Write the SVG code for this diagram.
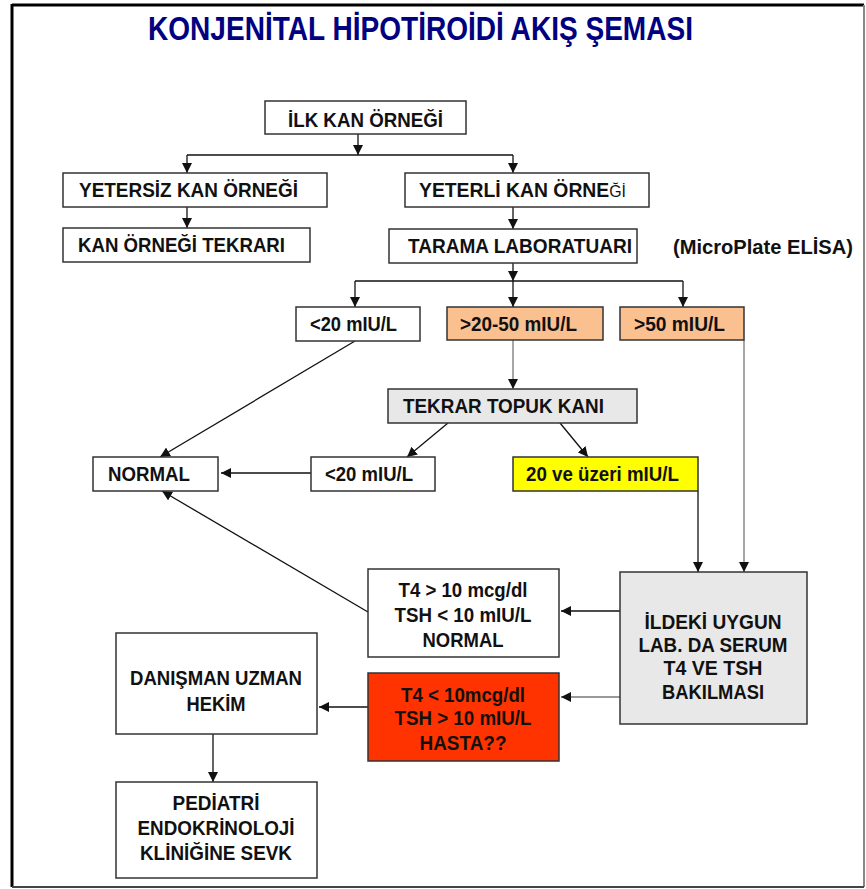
<svg xmlns="http://www.w3.org/2000/svg" width="866" height="889" viewBox="0 0 866 889">
<style>
.box{stroke:#333;stroke-width:1.5}
.w{fill:#fff}
.g{fill:#e8e8e8}
.o{fill:#fac090}
.y{fill:#ffff00}
.r{fill:#ff3300}
.t{font-family:"Liberation Sans",Arial,sans-serif;font-weight:bold;font-size:19.5px;fill:#111}
.c{text-anchor:middle}
.ln{stroke:#111;stroke-width:1.3;fill:none}
.lg{stroke:#777;stroke-width:1.3;fill:none}
</style>
<defs>
<marker id="ah" markerUnits="userSpaceOnUse" markerWidth="10" markerHeight="10" refX="10" refY="5" orient="auto" viewBox="0 0 10 10">
<path d="M0,0 L10,5 L0,10 z" fill="#111"/>
</marker>
</defs>
<rect x="0" y="0" width="866" height="889" fill="#fff"/>
<g id="frame">
<line x1="12" y1="5" x2="864" y2="5" stroke="#000" stroke-width="3"/>
<line x1="12" y1="4" x2="12" y2="887" stroke="#000" stroke-width="3"/>
<line x1="864" y1="5" x2="864" y2="887" stroke="#888" stroke-width="2"/>
<line x1="12" y1="887" x2="864" y2="887" stroke="#444" stroke-width="2"/>
</g>
<text id="title" x="148" y="40" font-family="'Liberation Sans',Arial,sans-serif" font-weight="bold" font-size="33" fill="#000080" textLength="545" lengthAdjust="spacingAndGlyphs">KONJENİTAL HİPOTİROİDİ AKIŞ ŞEMASI</text>

<g id="connectors">
<line class="ln" x1="358" y1="134" x2="358" y2="155" marker-end="url(#ah)"/>
<line class="ln" x1="187" y1="155" x2="513" y2="155"/>
<line class="ln" x1="187" y1="155" x2="187" y2="173" marker-end="url(#ah)"/>
<line class="ln" x1="513" y1="155" x2="513" y2="173" marker-end="url(#ah)"/>
<line class="ln" x1="187" y1="207" x2="187" y2="228" marker-end="url(#ah)"/>
<line class="ln" x1="513" y1="207" x2="513" y2="229" marker-end="url(#ah)"/>
<line class="ln" x1="513" y1="263" x2="513" y2="281" marker-end="url(#ah)"/>
<line class="ln" x1="355" y1="281" x2="683" y2="281"/>
<line class="ln" x1="355" y1="281" x2="355" y2="307" marker-end="url(#ah)"/>
<line class="ln" x1="513" y1="281" x2="513" y2="307" marker-end="url(#ah)"/>
<line class="ln" x1="683" y1="281" x2="683" y2="307" marker-end="url(#ah)"/>
<line class="lg" x1="513" y1="340" x2="513" y2="389" marker-end="url(#ah)"/>
<line class="lg" x1="744" y1="340" x2="744" y2="572" marker-end="url(#ah)"/>
<line class="ln" x1="355" y1="341" x2="160" y2="457" marker-end="url(#ah)"/>
<line class="ln" x1="448" y1="423" x2="407" y2="457" marker-end="url(#ah)"/>
<line class="ln" x1="560" y1="423" x2="588" y2="457" marker-end="url(#ah)"/>
<line class="ln" x1="311" y1="473" x2="221" y2="473" marker-end="url(#ah)"/>
<line class="ln" x1="698" y1="491" x2="698" y2="572" marker-end="url(#ah)"/>
<line class="ln" x1="368" y1="612" x2="162" y2="491" marker-end="url(#ah)"/>
<line class="ln" x1="620" y1="611" x2="561" y2="611" marker-end="url(#ah)"/>
<line class="lg" x1="620" y1="697" x2="561" y2="697" marker-end="url(#ah)"/>
<line class="ln" x1="368" y1="707" x2="319" y2="707" marker-end="url(#ah)"/>
<line class="ln" x1="213" y1="734" x2="213" y2="782" marker-end="url(#ah)"/>
</g>

<g id="ilk"><rect class="box w" x="265" y="101" width="201" height="33"/><text class="t" x="288" y="127" textLength="155" lengthAdjust="spacingAndGlyphs">İLK KAN ÖRNEĞİ</text></g>
<g id="yetersiz"><rect class="box w" x="63" y="173" width="264" height="34"/><text class="t" x="79" y="197" textLength="219" lengthAdjust="spacingAndGlyphs">YETERSİZ KAN ÖRNEĞİ</text></g>
<g id="tekrari"><rect class="box w" x="63" y="228" width="247" height="34"/><text class="t" x="78" y="252" textLength="207" lengthAdjust="spacingAndGlyphs">KAN ÖRNEĞİ TEKRARI</text></g>
<g id="yeterli"><rect class="box w" x="405" y="173" width="244" height="34"/><text class="t" x="419" y="197" textLength="207" lengthAdjust="spacingAndGlyphs">YETERLİ KAN ÖRNE<tspan font-size="16" font-weight="normal">Ğİ</tspan></text></g>
<g id="tarama"><rect class="box w" x="389" y="229" width="248" height="34"/><text class="t" x="408" y="253" textLength="224" lengthAdjust="spacingAndGlyphs">TARAMA LABORATUARI</text></g>
<g id="elisa"><text class="t" x="673" y="254" textLength="180" lengthAdjust="spacingAndGlyphs">(MicroPlate ELİSA)</text></g>
<g id="lt20a"><rect class="box w" x="296" y="307" width="124" height="34"/><text class="t" x="310" y="331" textLength="87" lengthAdjust="spacingAndGlyphs">&lt;20 mIU/L</text></g>
<g id="r2050"><rect class="box o" x="447" y="307" width="156" height="33"/><text class="t" x="460" y="331" textLength="117" lengthAdjust="spacingAndGlyphs">&gt;20-50 mIU/L</text></g>
<g id="gt50"><rect class="box o" x="620" y="307" width="124" height="33"/><text class="t" x="634" y="331" textLength="91" lengthAdjust="spacingAndGlyphs">&gt;50 mIU/L</text></g>
<g id="tekrar"><rect class="box g" x="388" y="389" width="249" height="34"/><text class="t" x="403" y="413" textLength="201" lengthAdjust="spacingAndGlyphs">TEKRAR TOPUK KANI</text></g>
<g id="normal"><rect class="box w" x="93" y="457" width="125" height="34"/><text class="t" x="108" y="481" textLength="82" lengthAdjust="spacingAndGlyphs">NORMAL</text></g>
<g id="lt20b"><rect class="box w" x="311" y="457" width="124" height="34"/><text class="t" x="325" y="481" textLength="88" lengthAdjust="spacingAndGlyphs">&lt;20 mIU/L</text></g>
<g id="yellow"><rect class="box y" x="513" y="457" width="185" height="34"/><text class="t" x="526" y="481" textLength="153" lengthAdjust="spacingAndGlyphs">20 ve üzeri mIU/L</text></g>
<g id="ildeki"><rect class="box g" x="620" y="572" width="187" height="152"/>
<text class="t c" x="713" y="629" textLength="137" lengthAdjust="spacingAndGlyphs">İLDEKİ UYGUN</text>
<text class="t c" x="713" y="652" textLength="149" lengthAdjust="spacingAndGlyphs">LAB. DA SERUM</text>
<text class="t c" x="713" y="675" textLength="99" lengthAdjust="spacingAndGlyphs">T4 VE TSH</text>
<text class="t c" x="713" y="699" textLength="102" lengthAdjust="spacingAndGlyphs">BAKILMASI</text></g>
<g id="t4normal"><rect class="box w" x="368" y="569" width="191" height="88"/>
<text class="t c" x="463" y="597" textLength="129" lengthAdjust="spacingAndGlyphs">T4 &gt; 10 mcg/dl</text>
<text class="t c" x="463" y="622" textLength="137" lengthAdjust="spacingAndGlyphs">TSH &lt; 10 mIU/L</text>
<text class="t c" x="463" y="647" textLength="81" lengthAdjust="spacingAndGlyphs">NORMAL</text></g>
<g id="hasta"><rect class="box r" x="368" y="673" width="191" height="88"/>
<text class="t c" x="463" y="702" textLength="124" lengthAdjust="spacingAndGlyphs">T4 &lt; 10mcg/dl</text>
<text class="t c" x="463" y="725" textLength="137" lengthAdjust="spacingAndGlyphs">TSH &gt; 10 mIU/L</text>
<text class="t c" x="463" y="750" textLength="87" lengthAdjust="spacingAndGlyphs">HASTA??</text></g>
<g id="danisman"><rect class="box w" x="116" y="633" width="201" height="101"/>
<text class="t c" x="216" y="685" textLength="172" lengthAdjust="spacingAndGlyphs">DANIŞMAN UZMAN</text>
<text class="t c" x="216" y="711" textLength="59" lengthAdjust="spacingAndGlyphs">HEKİM</text></g>
<g id="pediatri"><rect class="box w" x="116" y="782" width="201" height="96"/>
<text class="t c" x="216" y="810" textLength="87" lengthAdjust="spacingAndGlyphs">PEDİATRİ</text>
<text class="t c" x="216" y="835" textLength="157" lengthAdjust="spacingAndGlyphs">ENDOKRİNOLOJİ</text>
<text class="t c" x="216" y="860" textLength="152" lengthAdjust="spacingAndGlyphs">KLİNİĞİNE SEVK</text></g>
</svg>
